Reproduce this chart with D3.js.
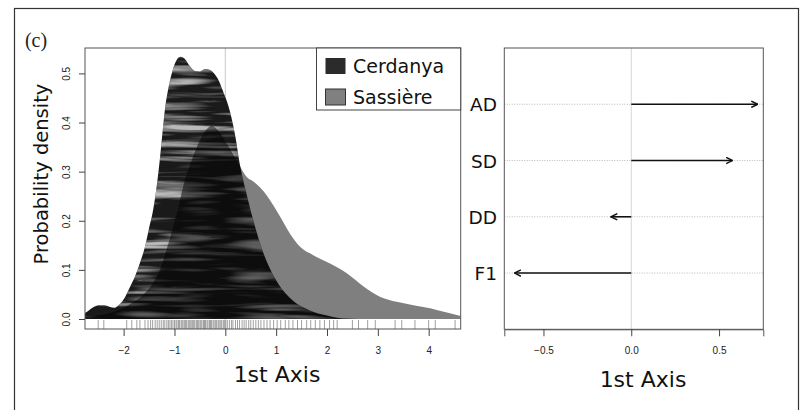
<!DOCTYPE html>
<html>
<head>
<meta charset="utf-8">
<script src="https://cdn.jsdelivr.net/npm/d3@7"></script>
<style>
  html, body { margin: 0; padding: 0; background: #fff; }
  svg { display: block; }
</style>
</head>
<body>
<svg id="chart" width="805" height="410"></svg>
<script>
// ---------- DATA ----------
const groups = ["Cerdanya", "Sassière"];
// density curve of Cerdanya scores on the 1st axis: [x, density]
const cerdanyaDensity = [
  [-2.76,0.012],[-2.68,0.018],[-2.58,0.025],[-2.48,0.028],[-2.38,0.028],[-2.28,0.025],
  [-2.18,0.023],[-2.08,0.03],[-1.97,0.045],[-1.88,0.064],[-1.78,0.086],[-1.68,0.114],
  [-1.58,0.147],[-1.5,0.185],[-1.42,0.222],[-1.35,0.27],[-1.29,0.323],[-1.24,0.375],
  [-1.19,0.425],[-1.12,0.47],[-1.04,0.505],[-0.96,0.527],[-0.88,0.534],[-0.8,0.53],
  [-0.7,0.515],[-0.6,0.505],[-0.5,0.504],[-0.4,0.509],[-0.3,0.507],[-0.2,0.497],
  [-0.12,0.483],[-0.04,0.462],[0.04,0.44],[0.12,0.41],[0.2,0.37],[0.28,0.318],
  [0.4,0.262],[0.55,0.201],[0.75,0.134],[1.0,0.079],[1.3,0.04],[1.65,0.018],
  [2.0,0.007],[2.3,0.001],[2.6,0.0],[4.63,0.0]
];
// density curve of Sassière scores on the 1st axis: [x, density]
const sassiereDensity = [
  [-2.76,0.004],[-2.4,0.009],[-2.1,0.018],[-1.85,0.032],[-1.65,0.046],[-1.5,0.062],
  [-1.38,0.08],[-1.25,0.11],[-1.13,0.15],[-1.02,0.19],[-0.92,0.228],[-0.83,0.269],
  [-0.66,0.323],[-0.5,0.364],[-0.38,0.385],[-0.27,0.393],[-0.15,0.385],[0.03,0.357],
  [0.26,0.316],[0.42,0.289],[0.55,0.28],[0.68,0.268],[0.88,0.242],[1.08,0.208],
  [1.27,0.174],[1.47,0.147],[1.73,0.13],[2.06,0.113],[2.39,0.093],[2.72,0.066],
  [3.05,0.045],[3.37,0.035],[3.7,0.028],[4.03,0.022],[4.36,0.013],[4.63,0.006]
];
// rug of individual scores on the 1st axis
const rugValues = [
  -2.50,-2.39,-1.94,-1.84,-1.74,-1.68,-1.58,-1.52,-1.47,-1.43,-1.38,-1.34,-1.30,-1.26,
  -1.22,-1.19,-1.15,-1.12,-1.09,-1.06,-1.03,-1.00,-0.97,-0.95,-0.92,-0.90,-0.87,-0.85,
  -0.83,-0.80,-0.78,-0.76,-0.73,-0.71,-0.69,-0.66,-0.64,-0.62,-0.60,-0.57,-0.55,-0.53,
  -0.50,-0.48,-0.46,-0.43,-0.41,-0.39,-0.36,-0.34,-0.31,-0.29,-0.27,-0.24,-0.22,-0.19,
  -0.17,-0.14,-0.12,-0.09,-0.07,-0.04,-0.02,0.01,0.04,0.08,0.12,0.15,0.2,0.24,0.28,
  0.33,0.37,0.41,0.46,0.5,0.55,0.6,0.65,0.7,0.76,0.82,0.88,0.95,1.02,1.09,1.18,1.25,
  1.33,1.42,1.5,1.6,1.68,1.77,1.86,1.95,2.05,2.13,2.2,2.5,2.62,2.8,2.95,3.34,3.47,
  3.73,4.0,4.13,4.52
];
const densityTicks = [0.0, 0.1, 0.2, 0.3, 0.4, 0.5];
const axisTicks = [-2, -1, 0, 1, 2, 3, 4];
// loadings of variables on the 1st axis
const variables = ["AD", "SD", "DD", "F1"];
const loadings = [0.72, 0.577, -0.116, -0.665];
const loadingTicks = [-0.5, 0.0, 0.5];

// ---------- DRAW ----------
const svg = d3.select("#chart");
const defs = svg.append("defs");

// outer frame
svg.append("rect").attr("x", 14.5).attr("y", 8.5).attr("width", 784).attr("height", 420)
  .attr("fill", "none").attr("stroke", "#333").attr("stroke-width", 1.2);

svg.append("text").attr("x", 36).attr("y", 47).attr("text-anchor", "middle")
  .attr("font-family", "Liberation Serif, DejaVu Serif, serif").attr("font-size", 20)
  .attr("fill", "#222").text("(c)");

// ----- left panel -----
const L = { left: 85, right: 460.7, top: 48, base: 319, bottom: 329 };
const x = d3.scaleLinear().domain([-2.76, 4.63]).range([L.left, L.right]);
const y = d3.scaleLinear().domain([0, 0.5517]).range([L.base, L.top]);

// zero reference line
svg.append("line").attr("x1", x(0)).attr("x2", x(0)).attr("y1", L.top).attr("y2", L.bottom)
  .attr("stroke", "#bbb").attr("stroke-width", 0.8);

const area = d3.area().x(d => x(d[0])).y0(y(0)).y1(d => y(d[1])).curve(d3.curveMonotoneX);

// streaky texture for Cerdanya
const filt = defs.append("filter").attr("id", "streaks")
  .attr("x", 0).attr("y", 0).attr("width", 1).attr("height", 1)
  .attr("filterUnits", "objectBoundingBox");
filt.append("feTurbulence").attr("type", "turbulence").attr("baseFrequency", "0.009 0.12")
  .attr("numOctaves", 2).attr("seed", 4).attr("result", "noise");
filt.append("feColorMatrix").attr("in", "noise").attr("type", "matrix")
  .attr("values", "0 0 0 0 1  0 0 0 0 1  0 0 0 0 1  2.4 0 0 0 -0.42").attr("result", "lines");
filt.append("feGaussianBlur").attr("in", "lines").attr("stdDeviation", "1.5 0.5");

const clip = defs.append("clipPath").attr("id", "cerdClip");
clip.append("path").datum(cerdanyaDensity).attr("d", area);

const cg = svg.append("g").attr("clip-path", "url(#cerdClip)");
cg.append("rect").attr("x", L.left).attr("y", L.top).attr("width", L.right - L.left)
  .attr("height", L.base - L.top).attr("fill", "#1a1a1a");
cg.append("rect").attr("x", L.left).attr("y", L.top).attr("width", L.right - L.left)
  .attr("height", L.base - L.top).attr("fill", "#fff").attr("filter", "url(#streaks)")
  .attr("opacity", 0.7);

// Sassière: translucent black over Cerdanya
svg.append("path").datum(sassiereDensity).attr("d", area)
  .attr("fill", "#000").attr("fill-opacity", 0.5);

// rug
svg.append("g").selectAll("line").data(rugValues).join("line")
  .attr("x1", d => x(d)).attr("x2", d => x(d)).attr("y1", L.base + 1).attr("y2", L.bottom)
  .attr("stroke", "#777").attr("stroke-width", 0.7);

// box
svg.append("rect").attr("x", L.left).attr("y", L.top).attr("width", L.right - L.left)
  .attr("height", L.bottom - L.top).attr("fill", "none").attr("stroke", "#555").attr("stroke-width", 1);

// x axis
const xAxis = svg.append("g").attr("transform", `translate(0,${L.bottom})`)
  .call(d3.axisBottom(x).tickValues(axisTicks).tickSize(7).tickSizeOuter(0).tickPadding(11)
    .tickFormat(d3.format("d")));
xAxis.select(".domain").remove();
xAxis.selectAll("line").attr("stroke", "#444");
xAxis.selectAll("text").attr("font-family", "Liberation Sans, Arial, sans-serif")
  .attr("font-size", 10).attr("fill", "#222");

// y axis
const yAxis = svg.append("g").attr("transform", `translate(${L.left},0)`)
  .call(d3.axisLeft(y).tickValues(densityTicks).tickSize(6).tickSizeOuter(0)
    .tickFormat(d3.format(".1f")));
yAxis.select(".domain").remove();
yAxis.selectAll("line").attr("stroke", "#444");
yAxis.selectAll("text")
  .attr("font-family", "Liberation Sans, Arial, sans-serif").attr("font-size", 10).attr("fill", "#222")
  .attr("x", null).attr("dy", null)
  .attr("text-anchor", "middle")
  .attr("transform", "translate(-19,0) rotate(-90) translate(0,3.5)");

svg.append("text").attr("transform", `translate(48,174) rotate(-90)`)
  .attr("text-anchor", "middle").attr("font-family", "DejaVu Sans, sans-serif")
  .attr("font-size", 19.5).attr("fill", "#111").text("Probability density");
svg.append("text").attr("x", 277).attr("y", 382).attr("text-anchor", "middle")
  .attr("font-family", "DejaVu Sans, sans-serif").attr("font-size", 22).attr("fill", "#111")
  .text("1st Axis");

// legend
const lg = svg.append("g");
lg.append("rect").attr("x", 316.5).attr("y", 48).attr("width", 144.2).attr("height", 62)
  .attr("fill", "#fff").attr("stroke", "#444").attr("stroke-width", 1);
const legendFill = ["#2b2b2b", "#808080"];
groups.forEach((g, i) => {
  const cy = 66 + i * 31;
  lg.append("rect").attr("x", 325.5).attr("y", cy - 8).attr("width", 20).attr("height", 16)
    .attr("fill", legendFill[i]).attr("stroke", i === 1 ? "#333" : "none").attr("stroke-width", 1);
  lg.append("text").attr("x", 353).attr("y", cy + 7).attr("font-family", "DejaVu Sans, sans-serif")
    .attr("font-size", 19).attr("fill", "#111").text(g);
});

// ----- right panel -----
const R = { left: 504.3, right: 763.3, top: 48, bottom: 329.3 };
const xr = d3.scaleLinear().domain([-0.723, 0.752]).range([R.left, R.right]);
const yr = d3.scalePoint().domain(["", ...variables, " "]).range([R.top, R.bottom]);

svg.append("g").selectAll("line").data(variables).join("line")
  .attr("x1", R.left).attr("x2", R.right).attr("y1", d => yr(d)).attr("y2", d => yr(d))
  .attr("stroke", "#aaa").attr("stroke-width", 0.8).attr("stroke-dasharray", "1,1.5");
svg.append("line").attr("x1", xr(0)).attr("x2", xr(0)).attr("y1", R.top).attr("y2", R.bottom)
  .attr("stroke", "#ccc").attr("stroke-width", 0.8);

defs.append("marker").attr("id", "arrow").attr("viewBox", "0 0 10 10").attr("refX", 9).attr("refY", 5)
  .attr("orient", "auto-start-reverse")
  .attr("markerUnits", "userSpaceOnUse").attr("markerWidth", 8).attr("markerHeight", 8)
  .append("path").attr("d", "M1,1 L9,5 L1,9").attr("fill", "none").attr("stroke", "#111").attr("stroke-width", 1.8);

svg.append("g").selectAll("line").data(variables).join("line")
  .attr("x1", xr(0)).attr("x2", (d, i) => xr(loadings[i]))
  .attr("y1", d => yr(d)).attr("y2", d => yr(d))
  .attr("stroke", "#111").attr("stroke-width", 1.6).attr("marker-end", "url(#arrow)");

svg.append("g").selectAll("text").data(variables).join("text")
  .attr("x", 497).attr("y", d => yr(d) + 7).attr("text-anchor", "end")
  .attr("font-family", "DejaVu Sans, sans-serif").attr("font-size", 18.5).attr("fill", "#111")
  .text(d => d);

svg.append("rect").attr("x", R.left).attr("y", R.top).attr("width", R.right - R.left)
  .attr("height", R.bottom - R.top).attr("fill", "none").attr("stroke", "#555").attr("stroke-width", 1);

const xrAxis = svg.append("g").attr("transform", `translate(0,${R.bottom})`)
  .call(d3.axisBottom(xr).tickValues(loadingTicks).tickSize(7).tickSizeOuter(7).tickPadding(11)
    .tickFormat(d3.format(".1f")));
xrAxis.select(".domain").attr("stroke", "#555");
xrAxis.selectAll("line").attr("stroke", "#444");
xrAxis.selectAll("text").attr("font-family", "Liberation Sans, Arial, sans-serif")
  .attr("font-size", 10).attr("fill", "#222");

svg.append("text").attr("x", 643).attr("y", 387).attr("text-anchor", "middle")
  .attr("font-family", "DejaVu Sans, sans-serif").attr("font-size", 22).attr("fill", "#111")
  .text("1st Axis");
</script>
</body>
</html>
